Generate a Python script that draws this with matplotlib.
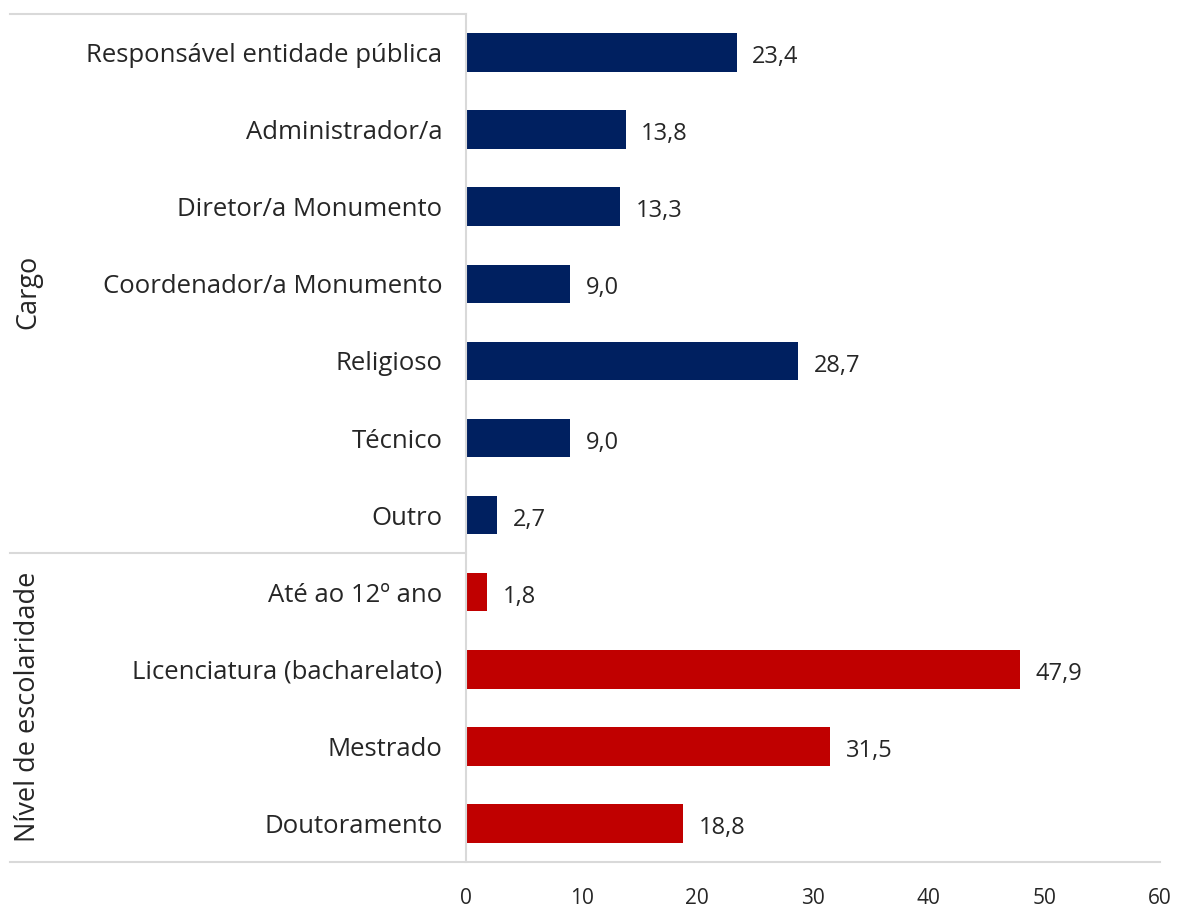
import matplotlib
matplotlib.use("Agg")
import matplotlib.pyplot as plt
from matplotlib.lines import Line2D

plt.rcParams['font.family'] = ['Open Sans', 'DejaVu Sans']

cargo_labels = ["Responsável entidade pública", "Administrador/a", "Diretor/a Monumento",
                "Coordenador/a Monumento", "Religioso", "Técnico", "Outro"]
cargo_values = [23.4, 13.8, 13.3, 9.0, 28.7, 9.0, 2.7]
escol_labels = ["Até ao 12º ano", "Licenciatura (bacharelato)", "Mestrado", "Doutoramento"]
escol_values = [1.8, 47.9, 31.5, 18.8]
group_names = ["Cargo", "Nível de escolaridade"]
x_ticks = [0, 10, 20, 30, 40, 50, 60]

labels = cargo_labels + escol_labels
values = cargo_values + escol_values
colors = ["#002060"] * len(cargo_values) + ["#C00000"] * len(escol_values)
ypos = list(range(len(labels)))

W, H = 1177, 909
fig = plt.figure(figsize=(W / 100, H / 100), dpi=100)
ax = fig.add_axes([466 / W, 1 - 862 / H, (1160 - 466) / W, (862 - 14) / H])

txt = "#262626"
ax.barh(ypos, values, height=0.5, color=colors)
ax.set_ylim(len(labels) - 0.5, -0.5)
ax.set_xlim(0, 60)
ax.set_xticks(x_ticks)
ax.set_xticklabels([str(t) for t in x_ticks], fontsize=15, color=txt)
ax.tick_params(axis='x', length=0, pad=19)
ax.set_yticks(ypos)
ax.set_yticklabels(labels, fontsize=18.5, color=txt)
ax.tick_params(axis='y', length=0, pad=17)

for y, v in zip(ypos, values):
    ax.text(v + 1.35, y + 0.06, f"{v:.1f}".replace(".", ","), va="center", ha="left",
            fontsize=17, color=txt)

for s in ["top", "right"]:
    ax.spines[s].set_visible(False)
ax.spines["left"].set_color("#d9d9d9")
ax.spines["left"].set_linewidth(1.5)
ax.spines["bottom"].set_visible(False)

gray = "#d9d9d9"
def fline(x0, x1, y0, y1):
    fig.add_artist(Line2D([x0 / W, x1 / W], [1 - y0 / H, 1 - y1 / H], color=gray, lw=1.5,
                          transform=fig.transFigure))

fline(10, 1160, 862, 862)
fline(10, 466, 14, 14)
fline(10, 466, 553, 553)

fig.text(28 / W, 1 - 292 / H, group_names[0], rotation=90, ha="center", va="center",
         fontsize=19.5, color=txt)
fig.text(28 / W, 1 - 707 / H, group_names[1], rotation=90, ha="center", va="center",
         fontsize=19.5, color=txt)

fig.savefig("out.png", dpi=100, facecolor="white")
